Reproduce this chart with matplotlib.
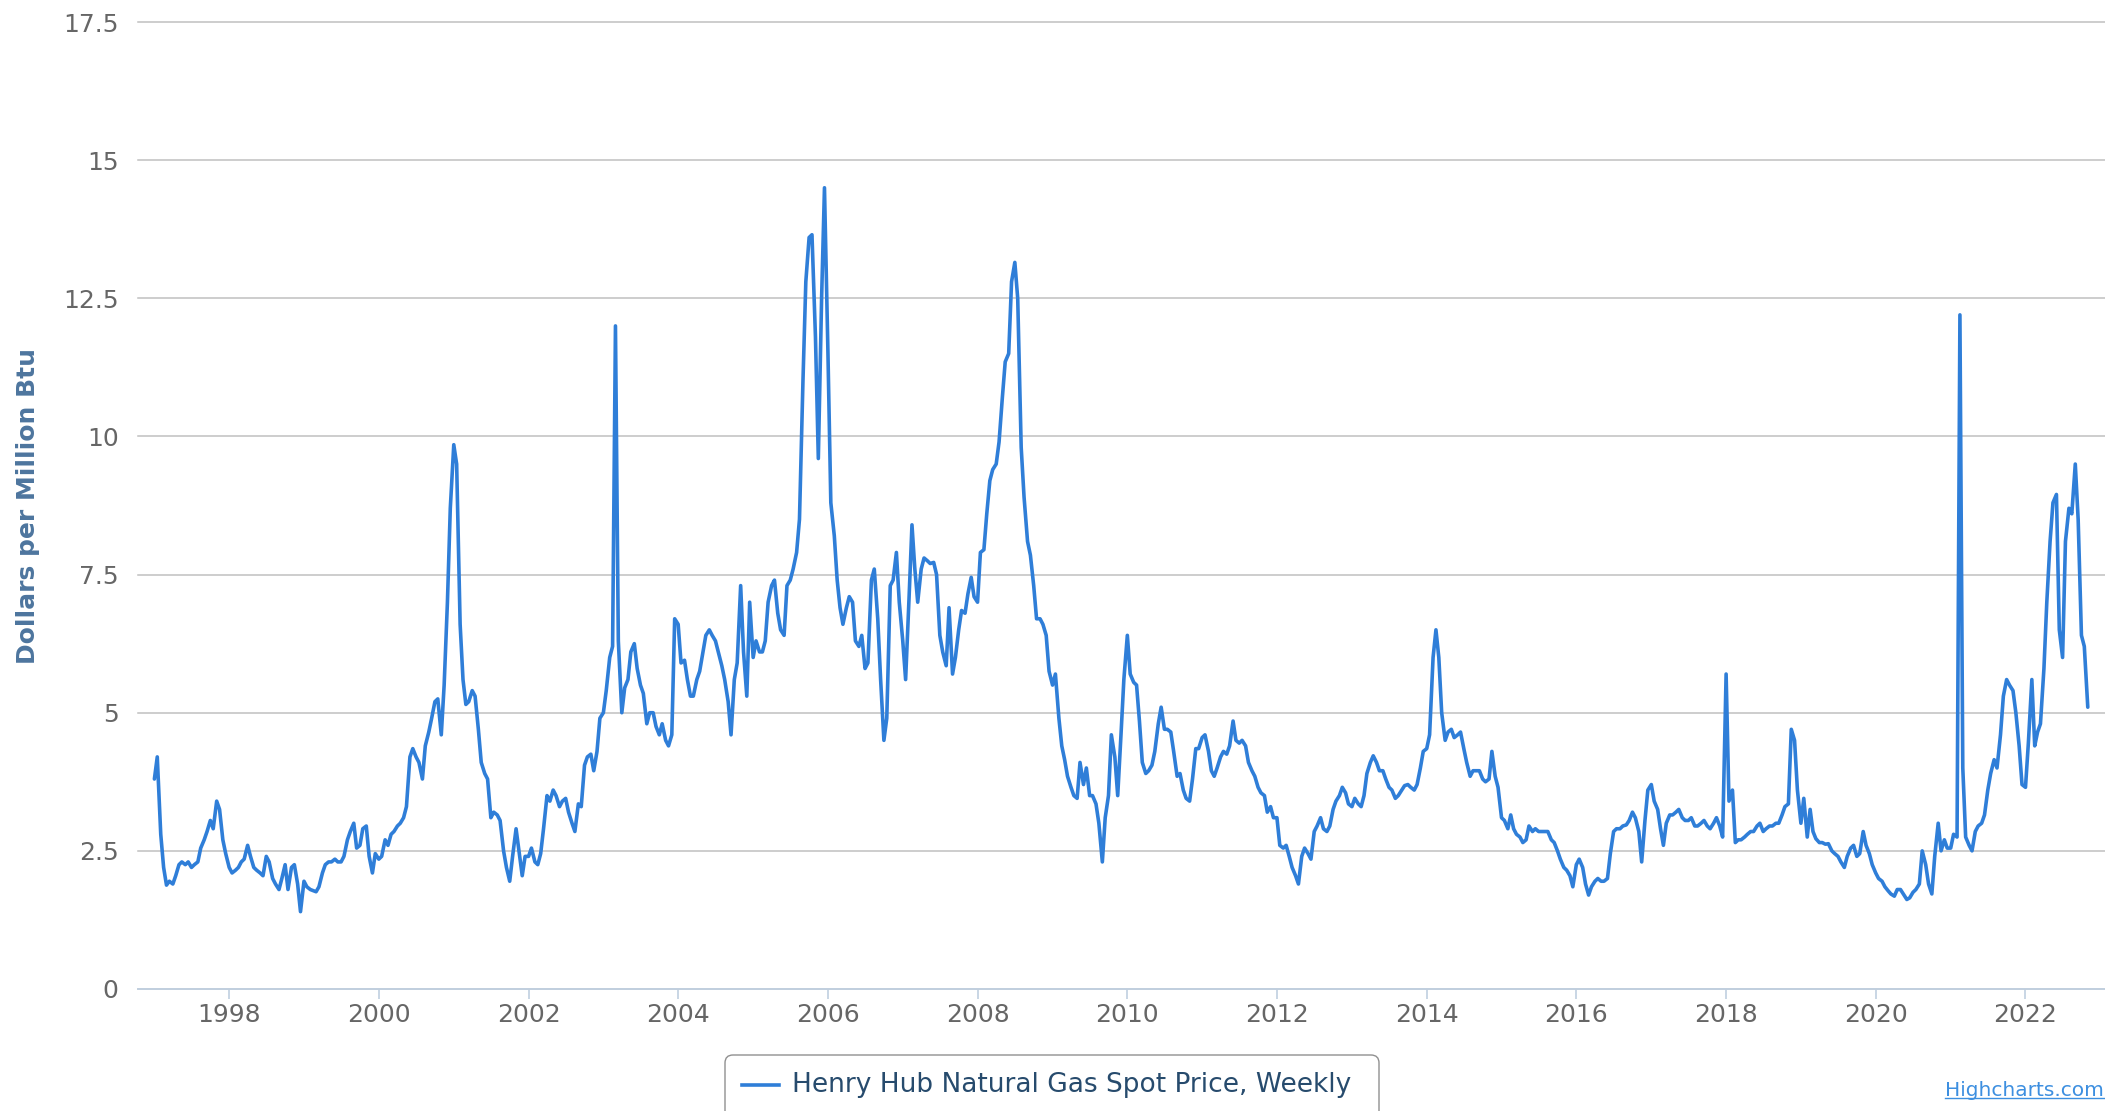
"""
Henry Hub natural gas spot price, weekly (1997 - 2022), drawn in the look of
an old Highcharts line chart.
"""

import datetime as dt

import matplotlib

matplotlib.use("Agg")
import matplotlib.pyplot as plt
from matplotlib.lines import Line2D
from matplotlib.patches import FancyBboxPatch
from matplotlib.ticker import FuncFormatter, MultipleLocator
from matplotlib.transforms import IdentityTransform

# ── data: dollars per million Btu, sampled on the 1st and 15th of each month ──
price_1997 = [3.8, 4.2, 2.8, 2.2, 1.88, 1.95, 1.9, 2.05, 2.25, 2.3, 2.25, 2.3,
              2.2, 2.25, 2.3, 2.55, 2.7, 2.85, 3.05, 2.9, 3.4, 3.25, 2.7, 2.45]
price_1998 = [2.2, 2.1, 2.15, 2.2, 2.3, 2.35, 2.6, 2.4, 2.2, 2.15, 2.1, 2.05,
              2.4, 2.3, 2.0, 1.9, 1.8, 2.0, 2.25, 1.8, 2.2, 2.25, 1.9, 1.4]
price_1999 = [1.95, 1.85, 1.8, 1.78, 1.76, 1.85, 2.1, 2.25, 2.3, 2.3, 2.35, 2.3,
              2.3, 2.4, 2.7, 2.85, 3.0, 2.55, 2.6, 2.9, 2.95, 2.4, 2.1, 2.45]
price_2000 = [2.35, 2.4, 2.7, 2.6, 2.8, 2.85, 2.95, 3.0, 3.1, 3.3, 4.2, 4.35,
              4.2, 4.1, 3.8, 4.4, 4.65, 4.9, 5.2, 5.25, 4.6, 5.5, 7.0, 8.7]
price_2001 = [9.85, 9.5, 6.6, 5.6, 5.15, 5.2, 5.4, 5.3, 4.7, 4.1, 3.9, 3.8,
              3.1, 3.2, 3.15, 3.05, 2.5, 2.2, 1.95, 2.4, 2.9, 2.5, 2.05, 2.4]
price_2002 = [2.4, 2.55, 2.3, 2.25, 2.45, 2.9, 3.5, 3.4, 3.6, 3.5, 3.3, 3.4,
              3.45, 3.2, 3.0, 2.85, 3.35, 3.3, 4.05, 4.2, 4.25, 3.95, 4.3, 4.9]
price_2003 = [5.0, 5.4, 6.0, 6.2, 12.0, 6.3, 5.0, 5.45, 5.6, 6.1, 6.25, 5.8,
              5.5, 5.35, 4.8, 5.0, 5.0, 4.75, 4.6, 4.8, 4.5, 4.4, 4.6, 6.7]
price_2004 = [6.6, 5.9, 5.95, 5.6, 5.3, 5.3, 5.6, 5.75, 6.1, 6.4, 6.5, 6.4,
              6.3, 6.1, 5.85, 5.6, 5.2, 4.6, 5.6, 5.9, 7.3, 6.1, 5.3, 7.0]
price_2005 = [6.0, 6.3, 6.1, 6.1, 6.3, 7.0, 7.3, 7.4, 6.8, 6.5, 6.4, 7.3,
              7.4, 7.6, 7.9, 8.5, 11.0, 12.8, 13.6, 13.65, 11.8, 9.6, 12.5, 14.5]
price_2006 = [11.5, 8.8, 8.2, 7.4, 6.9, 6.6, 6.9, 7.1, 7.0, 6.3, 6.2, 6.4,
              5.8, 5.9, 7.4, 7.6, 6.7, 5.6, 4.5, 4.9, 7.3, 7.4, 7.9, 7.0]
price_2007 = [6.3, 5.6, 7.1, 8.4, 7.6, 7.0, 7.6, 7.8, 7.75, 7.7, 7.72, 7.5,
              6.4, 6.1, 5.85, 6.9, 5.7, 6.0, 6.5, 6.85, 6.8, 7.15, 7.45, 7.1]
price_2008 = [7.0, 7.9, 7.95, 8.6, 9.2, 9.4, 9.5, 9.9, 10.7, 11.35, 11.5, 12.8,
              13.15, 12.5, 9.8, 8.9, 8.1, 7.85, 7.3, 6.7, 6.7, 6.6, 6.4, 5.75]
price_2009 = [5.5, 5.7, 4.9, 4.4, 4.15, 3.85, 3.65, 3.5, 3.45, 4.1, 3.7, 4.0,
              3.5, 3.5, 3.35, 3.0, 2.3, 3.1, 3.5, 4.6, 4.2, 3.5, 4.6, 5.6]
price_2010 = [6.4, 5.7, 5.55, 5.5, 4.85, 4.1, 3.9, 3.95, 4.05, 4.3, 4.8, 5.1,
              4.7, 4.7, 4.65, 4.3, 3.85, 3.9, 3.6, 3.45, 3.4, 3.8, 4.35, 4.35]
price_2011 = [4.55, 4.6, 4.3, 3.95, 3.85, 4.0, 4.2, 4.3, 4.25, 4.4, 4.85, 4.5,
              4.45, 4.5, 4.4, 4.1, 3.95, 3.85, 3.65, 3.55, 3.5, 3.2, 3.3, 3.1]
price_2012 = [3.1, 2.6, 2.55, 2.6, 2.4, 2.2, 2.05, 1.9, 2.4, 2.55, 2.45, 2.35,
              2.85, 2.95, 3.1, 2.9, 2.85, 2.95, 3.25, 3.4, 3.5, 3.65, 3.55, 3.35]
price_2013 = [3.3, 3.45, 3.35, 3.3, 3.5, 3.9, 4.1, 4.22, 4.1, 3.95, 3.95, 3.8,
              3.65, 3.6, 3.45, 3.5, 3.6, 3.68, 3.7, 3.65, 3.6, 3.7, 4.0, 4.3]
price_2014 = [4.35, 4.6, 6.0, 6.5, 6.0, 5.0, 4.5, 4.65, 4.7, 4.55, 4.6, 4.65,
              4.35, 4.1, 3.85, 3.95, 3.95, 3.95, 3.8, 3.75, 3.8, 4.3, 3.85, 3.65]
price_2015 = [3.1, 3.05, 2.9, 3.15, 2.9, 2.8, 2.75, 2.65, 2.7, 2.95, 2.85, 2.9,
              2.85, 2.85, 2.85, 2.85, 2.7, 2.65, 2.5, 2.35, 2.2, 2.15, 2.05, 1.85]
price_2016 = [2.25, 2.35, 2.2, 1.9, 1.7, 1.85, 1.95, 2.0, 1.95, 1.95, 2.0, 2.45,
              2.85, 2.9, 2.9, 2.95, 2.97, 3.05, 3.2, 3.1, 2.85, 2.3, 3.05, 3.6]
price_2017 = [3.7, 3.4, 3.25, 2.9, 2.6, 3.0, 3.15, 3.15, 3.2, 3.25, 3.1, 3.05,
              3.05, 3.1, 2.95, 2.95, 3.0, 3.05, 2.95, 2.9, 3.0, 3.1, 2.95, 2.75]
price_2018 = [5.7, 3.4, 3.6, 2.65, 2.7, 2.7, 2.75, 2.8, 2.85, 2.85, 2.95, 3.0,
              2.85, 2.9, 2.95, 2.95, 3.0, 3.0, 3.15, 3.3, 3.35, 4.7, 4.5, 3.6]
price_2019 = [3.0, 3.45, 2.75, 3.25, 2.85, 2.72, 2.65, 2.65, 2.62, 2.63, 2.5, 2.45,
              2.4, 2.3, 2.2, 2.4, 2.55, 2.6, 2.4, 2.45, 2.85, 2.6, 2.45, 2.25]
price_2020 = [2.1, 2.0, 1.95, 1.85, 1.78, 1.72, 1.68, 1.8, 1.8, 1.72, 1.62, 1.65,
              1.75, 1.8, 1.9, 2.5, 2.25, 1.9, 1.72, 2.4, 3.0, 2.5, 2.7, 2.55]
price_2021 = [2.55, 2.8, 2.75, 12.2, 4.0, 2.75, 2.6, 2.5, 2.85, 2.95, 3.0, 3.15,
              3.6, 3.9, 4.15, 4.0, 4.6, 5.3, 5.6, 5.5, 5.4, 5.0, 4.4, 3.7]
price_2022 = [3.65, 4.45, 5.6, 4.4, 4.65, 4.8, 5.8, 7.0, 8.1, 8.8, 8.95, 6.5,
              6.0, 8.1, 8.7, 8.6, 9.5, 8.5, 6.4, 6.2, 5.1]

tick_years = list(range(1998, 2023, 2))
series_name = "Henry Hub Natural Gas Spot Price, Weekly"
y_title = "Dollars per Million Btu"
credit_text = "Highcharts.com"

prices = (price_1997 + price_1998 + price_1999 + price_2000 + price_2001
          + price_2002 + price_2003 + price_2004 + price_2005 + price_2006
          + price_2007 + price_2008 + price_2009 + price_2010 + price_2011
          + price_2012 + price_2013 + price_2014 + price_2015 + price_2016
          + price_2017 + price_2018 + price_2019 + price_2020 + price_2021
          + price_2022)
dates = [dt.date(y, m, d) for y in range(1997, 2023)
         for m in range(1, 13) for d in (1, 15)][:len(prices)]

# ── style ──────────────────────────────────────────────────────────────
LINE_COLOR = "#2f7ed8"
GRID_COLOR = "#c0c0c0"
AXIS_COLOR = "#c0d0e0"
LABEL_COLOR = "#666666"
TITLE_COLOR = "#4d759e"
LEGEND_COLOR = "#274b6d"

W, H = 2105, 1111
px = IdentityTransform()  # figure pixel coords, origin bottom-left

fig = plt.figure(figsize=(W / 100, H / 100), dpi=100)
ax = fig.add_axes([138 / W, 1 - 989 / H, 1 - 138 / W, (989 - 22) / H])

ax.plot(dates, prices, color=LINE_COLOR, lw=2.6,
        solid_joinstyle="round", solid_capstyle="round")

ax.set_ylim(0, 17.5)
ax.set_xlim(dt.date(1996, 10, 13), dt.date(2023, 1, 24))
ax.yaxis.set_major_locator(MultipleLocator(2.5))
ax.yaxis.set_major_formatter(FuncFormatter(lambda v, _: f"{v:g}"))
ax.set_xticks([dt.date(y, 1, 1) for y in tick_years])
ax.set_xticklabels([str(y) for y in tick_years])

ax.grid(axis="y", color=GRID_COLOR, lw=1.1)
ax.set_axisbelow(True)
for line in ax.get_ygridlines():
    line.set_clip_on(False)

for side in ("top", "right", "left"):
    ax.spines[side].set_visible(False)
ax.spines["bottom"].set_color(AXIS_COLOR)
ax.spines["bottom"].set_linewidth(1.3)

ax.tick_params(axis="x", length=7, width=1.2, color=AXIS_COLOR,
               labelcolor=LABEL_COLOR, labelsize=18, pad=3)
ax.tick_params(axis="y", length=0, labelcolor=LABEL_COLOR, labelsize=18, pad=14)

# ── axis title ─────────────────────────────────────────────────────────
fig.text(28, H - 506, y_title, transform=px, rotation=90, ha="center",
         va="center", fontsize=18, fontweight="bold", color=TITLE_COLOR)

# ── legend box (cut off by the bottom edge, like the source) ───────────
box = FancyBboxPatch((725, H - 1125), 1379 - 725, 70,
                     boxstyle="round,pad=0,rounding_size=8", transform=px,
                     facecolor="white", edgecolor="#909090", lw=1.0)
fig.add_artist(box)
fig.add_artist(Line2D([742, 779], [H - 1085, H - 1085], transform=px,
                      color=LINE_COLOR, lw=2.6))
fig.text(792, H - 1085, series_name, transform=px, ha="left", va="center",
         fontsize=19, color=LEGEND_COLOR)

# ── credit link ────────────────────────────────────────────────────────
credit = fig.text(2104, H - 1090, credit_text, transform=px, ha="right",
                  va="center", fontsize=14.5, color="#3d8fe0")
fig.canvas.draw()
bb = credit.get_window_extent()
fig.add_artist(Line2D([bb.x0, bb.x1], [bb.y0 + 2, bb.y0 + 2], transform=px,
                      color="#3d8fe0", lw=1.0))

fig.savefig("out.png", dpi=100)
